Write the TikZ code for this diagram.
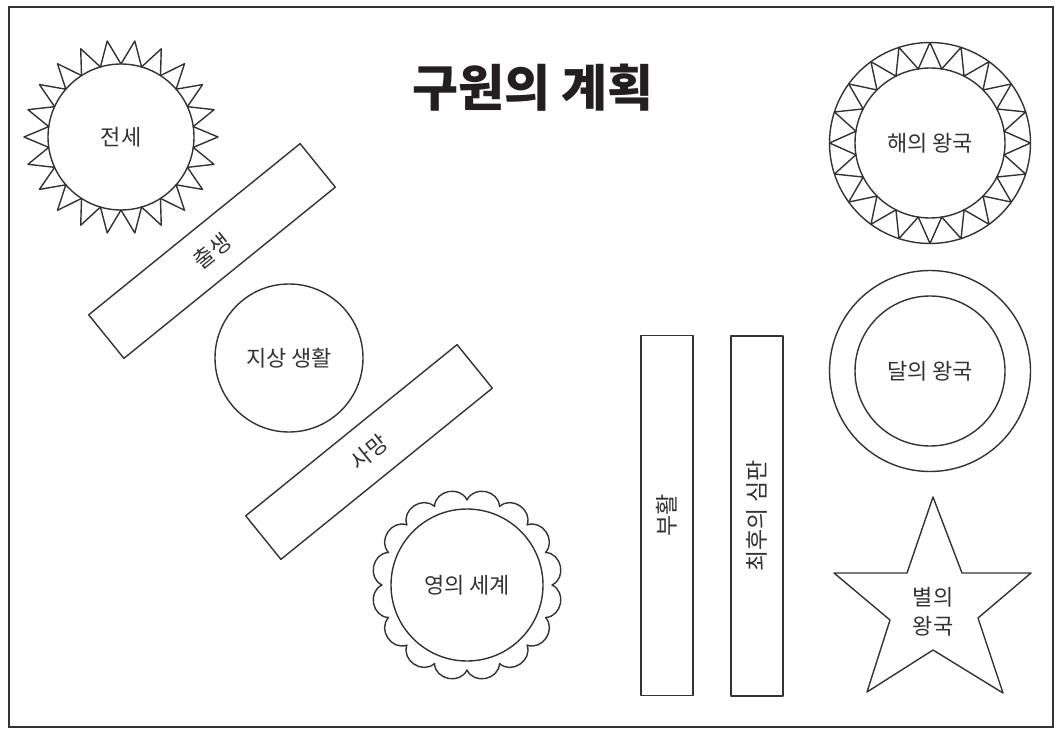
\documentclass[tikz,border=0pt]{standalone}
\usepackage{fontspec}
\setmainfont{Noto Sans CJK KR}
\usetikzlibrary{calc}
\definecolor{ink}{HTML}{333333}
\definecolor{titleink}{HTML}{231F20}
\tikzset{
  line/.style={draw=ink, line width=1.4pt, line join=round},
  lbl/.style={text=ink, font=\fontsize{22}{25}\selectfont, inner sep=0pt},
  bar/.style={line, rectangle, minimum width=272pt, minimum height=56pt, inner sep=0pt, text=ink, font=\fontsize{22}{25}\selectfont},
  vbar/.style={line, rectangle, minimum width=52pt, minimum height=360pt, inner sep=0pt, text=ink, font=\fontsize{23}{26}\selectfont},
  disc/.style={line, circle, inner sep=0pt, text=ink, font=\fontsize{22}{25}\selectfont},
}
\begin{document}
\begin{tikzpicture}[x=1pt,y=-1pt]
\useasboundingbox[fill=white] (0,0) rectangle (1057,730);
% frame
\draw[draw=ink, line width=1.4pt] (9,7) rectangle (1053,727);
% title
\node[text=titleink, font=\fontsize{50}{56}\selectfont\bfseries, inner sep=0pt] (title) at (533,88) {구원의 계획};
% 전세 (sun)
\node[disc, minimum size=146pt] (pre) at (121,137) {전세};
\draw[line, shift={(pre.center)}] plot[samples at={0,...,44}] ({\x*360/44-90}:{ifthenelse(mod(\x,2)==0,73,97)});
% 출생
\node[bar, rotate=39] (birth) at (212,251) {출생};
% 지상 생활
\node[disc, minimum size=148pt] (earth) at (289,358) {지상 생활};
% 사망
\node[bar, rotate=39] (death) at (369,452) {사망};
% 영의 세계
\node[disc, minimum size=152pt] (spirit) at (467,585) {영의 세계};
\draw[line, shift={(spirit.center)}] (0:85)
  \foreach \i in {0,...,15} { .. controls ({\i*22.5+4}:100) and ({\i*22.5+18.5}:100) .. ({(\i+1)*22.5}:85) } -- cycle;
% 부활, 최후의 심판
\node[vbar] (res) at (667,515.5) {\rotatebox{90}{부활}};
\node[vbar] (judg) at (757,516) {\rotatebox{90}{최후의 심판}};
% 해의 왕국
\node[disc, minimum size=150pt] (sunk) at (930,143) {해의 왕국};
\draw[line] (sunk.center) circle (100.5);
\draw[line, shift={(sunk.center)}] plot[samples at={0,...,40}] ({\x*360/40-90}:{ifthenelse(mod(\x,2)==0,100.5,75)});
% 달의 왕국
\node[disc, minimum size=150pt] (moon) at (930,371) {달의 왕국};
\draw[line] (moon.center) circle (100.5);
% 별의 왕국
\coordinate (s1) at (933,497);
\coordinate (s2) at (962,573);
\coordinate (s3) at (1031,573);
\coordinate (s4) at (978,618);
\coordinate (s5) at (1003,693);
\coordinate (s6) at (933,650);
\coordinate (s7) at (867,692);
\coordinate (s8) at (890,620);
\coordinate (s9) at (834,573);
\coordinate (s10) at (907,573);
\draw[line] (s1) -- (s2) -- (s3) -- (s4) -- (s5) -- (s6) -- (s7) -- (s8) -- (s9) -- (s10) -- cycle;
\node[lbl, align=center, font=\fontsize{22}{29}\selectfont] (star) at (933,612) {별의\\왕국};
\end{tikzpicture}
\end{document}
